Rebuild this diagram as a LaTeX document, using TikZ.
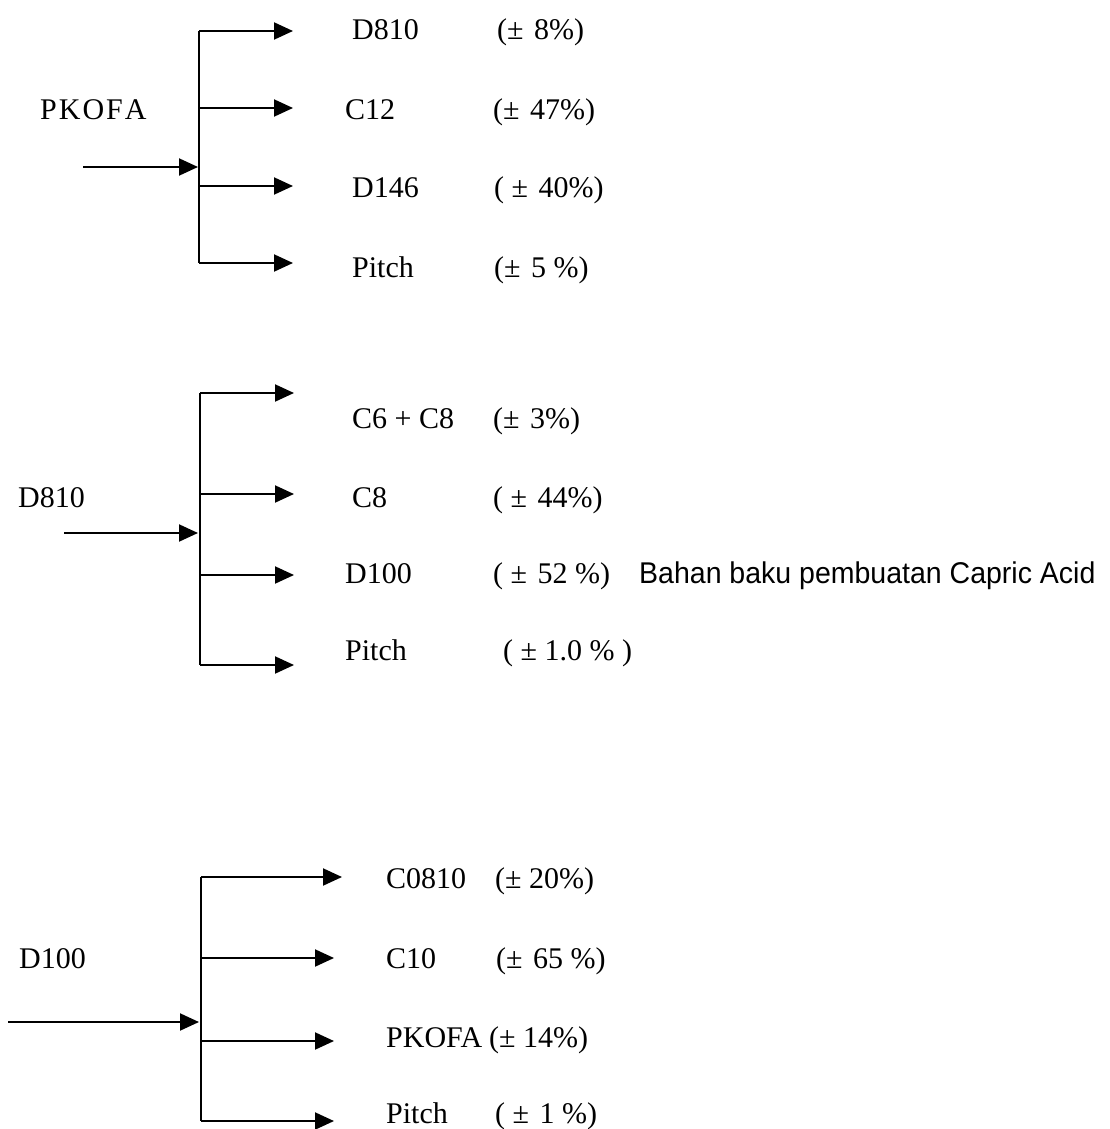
\documentclass[tikz,border=0pt]{standalone}
\usepackage{fontspec}
\setmainfont{Liberation Serif}
\newfontfamily\notefont[FakeStretch=0.95]{Liberation Sans}
\usetikzlibrary{arrows.meta,positioning}
\newcommand{\pmgap}{±\hspace{0.35em}}
\tikzset{
  lbl/.style={anchor=base west, inner sep=0pt, font=\fontsize{30}{36}\selectfont},
  note/.style={lbl, font=\notefont\fontsize{30}{36}\selectfont},
  bus/.style={draw=black, line width=2pt},
  ar/.style={-{Triangle[length=19pt,width=17pt]}, draw=black, line width=2pt},
}

\begin{document}
\begin{tikzpicture}[x=1pt,y=-1pt]
  \useasboundingbox (0,0) rectangle (1110,1129);

  % PKOFA split
  \node[lbl] (pkofa) at (40,120) {P\kern2pt K\kern2pt O\kern2pt F\kern2pt A};
  \coordinate (in1) at (83,167);
  \coordinate (j1) at (198,167);
  \coordinate (b1a) at (199,31);
  \coordinate (b1b) at (199,108);
  \coordinate (b1c) at (199,186);
  \coordinate (b1d) at (199,263);
  \coordinate (t1a) at (293,31);
  \coordinate (t1b) at (293,108);
  \coordinate (t1c) at (293,186);
  \coordinate (t1d) at (293,263);
  \node[lbl] (d810) at (352,40) {D810};
  \node[lbl] (c12) at (345,120) {C12};
  \node[lbl] (d146) at (352,197) {D146};
  \node[lbl] (pitch1) at (352,277) {Pitch};
  \node[lbl] (p1a) at (497,40) {(\pmgap 8\%)};
  \node[lbl] (p1b) at (493,120) {(\pmgap 47\%)};
  \node[lbl] (p1c) at (494,197) {( \pmgap 40\%)};
  \node[lbl] (p1d) at (494,277) {(\pmgap 5 \%)};
  \draw[ar] (in1) -- (j1);
  \draw[bus] (b1a) -- (b1d);
  \draw[ar] (b1a) -- (t1a);
  \draw[ar] (b1b) -- (t1b);
  \draw[ar] (b1c) -- (t1c);
  \draw[ar] (b1d) -- (t1d);

  % D810 split
  \node[lbl] (d810s) at (18,507) {D810};
  \coordinate (in2) at (64,533);
  \coordinate (j2) at (198,533);
  \coordinate (b2a) at (200,393);
  \coordinate (b2b) at (200,494);
  \coordinate (b2c) at (200,575);
  \coordinate (b2d) at (200,665);
  \coordinate (t2a) at (294,393);
  \coordinate (t2b) at (294,494);
  \coordinate (t2c) at (294,575);
  \coordinate (t2d) at (294,665);
  \node[lbl] (c6c8) at (352,428) {C6 + C8};
  \node[lbl] (c8) at (352,507) {C8};
  \node[lbl] (d100) at (345,583) {D100};
  \node[lbl] (pitch2) at (345,660) {Pitch};
  \node[lbl] (p2a) at (493,428) {(\pmgap 3\%)};
  \node[lbl] (p2b) at (493,507) {( \pmgap 44\%)};
  \node[lbl] (p2c) at (493,583) {( \pmgap 52 \%)};
  \node[lbl] (p2d) at (503,660) {( ± 1.0 \% )};
  \node[note] (capric) at (639,583) {Bahan baku pembuatan Capric Acid};
  \draw[ar] (in2) -- (j2);
  \draw[bus] (b2a) -- (b2d);
  \draw[ar] (b2a) -- (t2a);
  \draw[ar] (b2b) -- (t2b);
  \draw[ar] (b2c) -- (t2c);
  \draw[ar] (b2d) -- (t2d);

  % D100 split
  \node[lbl] (d100s) at (19,968) {D100};
  \coordinate (in3) at (8,1022);
  \coordinate (j3) at (199,1022);
  \coordinate (b3a) at (201,877);
  \coordinate (b3b) at (201,958);
  \coordinate (b3c) at (201,1041);
  \coordinate (b3d) at (201,1121);
  \coordinate (t3a) at (342,877);
  \coordinate (t3b) at (334,958);
  \coordinate (t3c) at (334,1041);
  \coordinate (t3d) at (334,1121);
  \node[lbl] (c0810) at (386,888) {C0810};
  \node[lbl] (c10) at (386,968) {C10};
  \node[lbl] (pkofa3) at (386,1047) {PKOFA};
  \node[lbl] (pitch3) at (386,1123) {Pitch};
  \node[lbl] (p3a) at (495,888) {(± 20\%)};
  \node[lbl] (p3b) at (496,968) {(\pmgap 65 \%)};
  \node[lbl] (p3c) at (489,1047) {(± 14\%)};
  \node[lbl] (p3d) at (495,1123) {( \pmgap 1 \%)};
  \draw[ar] (in3) -- (j3);
  \draw[bus] (b3a) -- (b3d);
  \draw[ar] (b3a) -- (t3a);
  \draw[ar] (b3b) -- (t3b);
  \draw[ar] (b3c) -- (t3c);
  \draw[ar] (b3d) -- (t3d);
\end{tikzpicture}
\end{document}
